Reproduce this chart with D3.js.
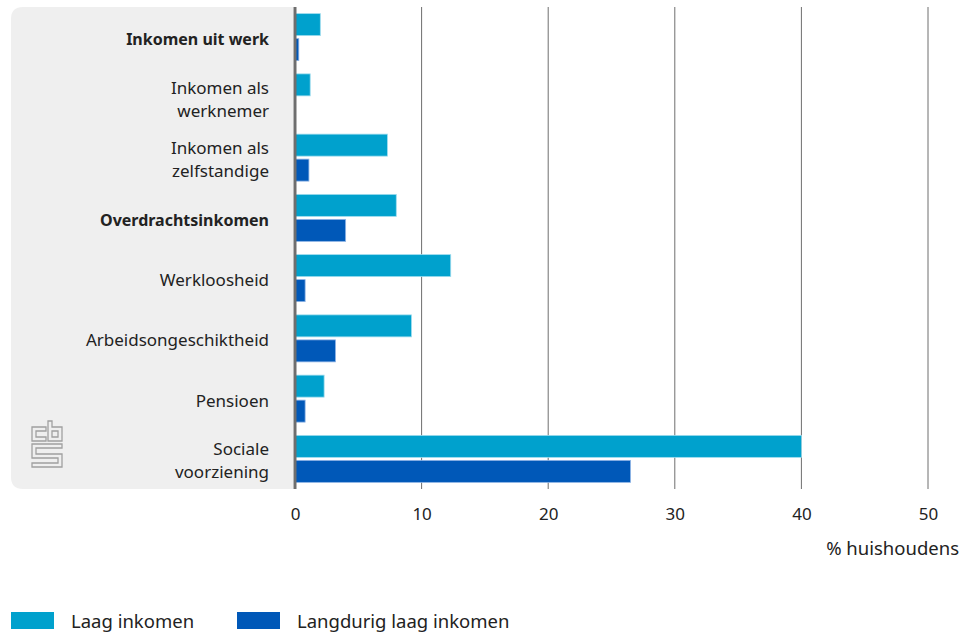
<!DOCTYPE html>
<html>
<head>
<meta charset="utf-8">
<script src="https://cdn.jsdelivr.net/npm/d3@7"></script>
<style>
  body { margin: 0; background: #fff; }
  svg { font-family: 'Noto Sans', sans-serif; }
</style>
</head>
<body>
<svg id="chart"></svg>
<script>
// data (% huishoudens)
const categories = [
    ['Inkomen uit werk'],
    ['Inkomen als', 'werknemer'],
    ['Inkomen als', 'zelfstandige'],
    ['Overdrachtsinkomen'],
    ['Werkloosheid'],
    ['Arbeidsongeschiktheid'],
    ['Pensioen'],
    ['Sociale', 'voorziening']
];
const boldCategories = ['Inkomen uit werk', 'Overdrachtsinkomen'];
const seriesNames = ['Laag inkomen', 'Langdurig laag inkomen'];
const laag = [2.0, 1.2, 7.3, 8.0, 12.3, 9.2, 2.3, 40.0];
const langdurig = [0.3, 0, 1.1, 4.0, 0.8, 3.2, 0.8, 26.5];
const xTicks = [0, 10, 20, 30, 40, 50];
const colors = ['#00a1cd', '#0058b8'];

const width = 968, height = 634;
const margin = { top: 7, right: 40, bottom: 145, left: 295 };
const innerW = width - margin.left - margin.right;
const innerH = height - margin.top - margin.bottom;

const svg = d3.select('#chart')
    .attr('width', width)
    .attr('height', height);

const keys = categories.map(d => d.join(' '));
const rows = keys.map((k, i) => ({ key: k, lines: categories[i], values: [laag[i], langdurig[i]] }));

const x = d3.scaleLinear().domain([0, 50]).range([0, innerW]);
const y = d3.scaleBand().domain(keys).range([0, innerH]).paddingInner(0.22).paddingOuter(0.11);
const ys = d3.scaleBand().domain([0, 1]).range([0, y.bandwidth()]).paddingInner(0.12);

// grey label panel with rounded left corners
const px0 = 11, px1 = margin.left - 2, py0 = margin.top, py1 = margin.top + innerH, r = 12;
svg.append('path')
    .attr('d', `M${px1},${py0} L${px0 + r},${py0} Q${px0},${py0} ${px0},${py0 + r} L${px0},${py1 - r} Q${px0},${py1} ${px0 + r},${py1} L${px1},${py1} Z`)
    .attr('fill', '#efefef');

// cbs logo (rough outline)
const logo = svg.append('g')
    .attr('transform', 'translate(32,421)')
    .attr('fill', 'none')
    .attr('stroke', '#a0a0a0')
    .attr('stroke-width', 1.3);
logo.append('path').attr('d', 'M0,6 H14 V10 H4 V16 H14 V20 H0 Z');
logo.append('path').attr('d', 'M16,0 H20 V6 H30 V20 H16 Z M20,10 V16 H26 V10 Z');
logo.append('path').attr('d', 'M0,23 H30 V27 H4 V33 H30 V46 H0 V42 H26 V37 H0 Z');

const chart = svg.append('g')
    .attr('transform', `translate(${margin.left}, ${margin.top})`);

// gridlines
chart.append('g')
    .selectAll('line')
    .data(xTicks.filter(d => d > 0))
    .join('line')
    .attr('x1', d => x(d)).attr('x2', d => x(d))
    .attr('y1', 0).attr('y2', innerH)
    .attr('stroke', '#6e6e6e')
    .attr('stroke-width', 1);

// bars
const groups = chart.selectAll('g.row')
    .data(rows)
    .join('g')
    .attr('class', 'row')
    .attr('transform', d => `translate(0, ${y(d.key)})`);

groups.selectAll('rect')
    .data(d => d.values.map((v, i) => ({ v, i })))
    .join('rect')
    .attr('x', 0)
    .attr('y', d => ys(d.i))
    .attr('width', d => x(d.v))
    .attr('height', ys.bandwidth())
    .attr('fill', d => colors[d.i])
    .attr('stroke', d => d.v > 0 ? (d.i === 0 ? '#9fdcee' : '#8fb4e6') : 'none')
    .attr('stroke-width', 0.8);

// zero axis line
chart.append('line')
    .attr('x1', 0).attr('x2', 0)
    .attr('y1', 0).attr('y2', innerH)
    .attr('stroke', '#6e6e6e')
    .attr('stroke-width', 3);

// category labels
const lineH = 23;
groups.append('text')
    .attr('text-anchor', 'end')
    .attr('fill', '#222')
    .attr('font-size', d => boldCategories.includes(d.key) ? 16 : 17)
    .attr('font-weight', d => boldCategories.includes(d.key) ? 'bold' : 'normal')
    .selectAll('tspan')
    .data(d => d.lines.map((t, i) => ({ t, i, n: d.lines.length })))
    .join('tspan')
    .attr('x', -26)
    .attr('y', d => y.bandwidth() / 2 + (d.i - (d.n - 1) / 2) * lineH + 8)
    .text(d => d.t);

// x axis
const xaxis = d3.axisBottom(x).tickValues(xTicks).tickSize(0).tickPadding(0);
const xg = chart.append('g')
    .attr('transform', `translate(0, ${innerH})`)
    .call(xaxis);
xg.select('.domain').remove();
xg.selectAll('text')
    .attr('dy', null)
    .attr('y', 31)
    .attr('font-size', 17)
    .attr('font-family', 'Noto Sans, sans-serif')
    .attr('fill', '#222');

svg.append('text')
    .attr('x', 959)
    .attr('y', 555)
    .attr('text-anchor', 'end')
    .attr('font-size', 18.5)
    .attr('fill', '#222')
    .text('% huishoudens');

// legend
const legendX = [11, 237];
const legend = svg.append('g')
    .selectAll('g')
    .data(seriesNames)
    .join('g')
    .attr('transform', (d, i) => `translate(${legendX[i]}, 612)`);
legend.append('rect')
    .attr('width', 43).attr('height', 17)
    .attr('fill', (d, i) => colors[i]);
legend.append('text')
    .attr('x', 60).attr('y', 16)
    .attr('font-size', 18.5)
    .attr('fill', '#222')
    .text(d => d);
</script>
</body>
</html>
